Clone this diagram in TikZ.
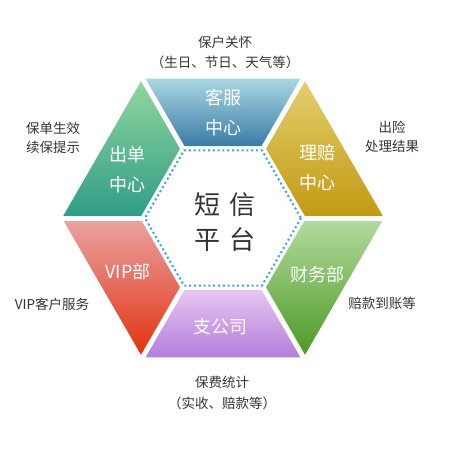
\documentclass[tikz,border=0pt]{standalone}
\usepackage{fontspec}
\setmainfont{Noto Sans CJK SC}
\usetikzlibrary{calc}
\definecolor{labelgray}{HTML}{333333}
\definecolor{ctrgray}{HTML}{333333}
\definecolor{dotblue}{HTML}{3AA3E3}
\definecolor{kfTop}{HTML}{AAD6E1}
\definecolor{kfBot}{HTML}{3B7CA7}
\definecolor{cdTop}{HTML}{93D79C}
\definecolor{cdBot}{HTML}{2E9C86}
\definecolor{lpTop}{HTML}{E3D06F}
\definecolor{lpBot}{HTML}{C29812}
\definecolor{vipTop}{HTML}{EAA4A4}
\definecolor{vipBot}{HTML}{E2300E}
\definecolor{cwTop}{HTML}{B4DB9F}
\definecolor{cwBot}{HTML}{4A9922}
\definecolor{zgTop}{HTML}{E6C6F1}
\definecolor{zgBot}{HTML}{B47DDB}
\begin{document}
\begin{tikzpicture}[x=1pt,y=-1pt,
  lbl/.style={text=labelgray, font=\fontsize{13.5}{16}\selectfont, inner sep=0pt},
  seg/.style={text=white, font=\fontsize{18}{20}\selectfont, inner sep=0pt},
  ctr/.style={text=ctrgray, font=\fontsize{26}{28}\selectfont, inner sep=0pt},
  gapline/.style={white, line width=5pt},
  dotline/.style={draw=dotblue, line width=2pt, dash pattern=on 2pt off 2.8pt}]
\useasboundingbox (0,0) rectangle (450,450);
\coordinate (O) at (223,218);
\foreach \a [count=\i] in {0,60,120,180,240,300} {
  \coordinate (P\i) at ($(O)+(\a:161)$);
  \coordinate (Q\i) at ($(O)+(\a:83)$);
  \coordinate (D\i) at ($(O)+(\a:78)$);
  \coordinate (G\i) at ($(O)+(\a:168)$);
  \coordinate (H\i) at ($(O)+(\a:80)$);
}
% pieces
\shade[top color=kfTop, bottom color=kfBot] (P5)--(P6)--(Q6)--(Q5)--cycle;
\shade[top color=lpTop, bottom color=lpBot] (P6)--(P1)--(Q1)--(Q6)--cycle;
\shade[top color=cwTop, bottom color=cwBot] (P1)--(P2)--(Q2)--(Q1)--cycle;
\shade[top color=zgTop, bottom color=zgBot] (P2)--(P3)--(Q3)--(Q2)--cycle;
\shade[top color=vipTop, bottom color=vipBot] (P3)--(P4)--(Q4)--(Q3)--cycle;
\shade[top color=cdTop, bottom color=cdBot] (P4)--(P5)--(Q5)--(Q4)--cycle;
% gaps
\foreach \i in {1,...,6} { \draw[gapline] (G\i) -- (H\i); }
% inner dotted hexagon
\draw[dotline] (D1)--(D2)--(D3)--(D4)--(D5)--(D6)--cycle;
% piece texts
\node[seg] (kf1) at (223,98) {客服};
\node[seg] (kf2) at (223,128) {中心};
\node[seg] (cd1) at (127,155) {出单};
\node[seg] (cd2) at (127,185) {中心};
\node[seg] (lp1) at (317,153) {理赔};
\node[seg] (lp2) at (317,183) {中心};
\node[seg] (vip) at (128,272) {VIP部};
\node[seg] (cw) at (317,275) {财务部};
\node[seg] (zg) at (220,327) {支公司};
% center
\node[ctr] (c1) at (225,205) {短\hspace{9pt}信};
\node[ctr] (c2) at (225,240) {平\hspace{9pt}台};
% outer labels
\node[lbl] (t1) at (225,42) {保户关怀};
\node[lbl] (t2) at (225,62) {（生日、节日、天气等）};
\node[lbl] (l1) at (53,128) {保单生效};
\node[lbl] (l2) at (53,147) {续保提示};
\node[lbl] (r1) at (392,127) {出险};
\node[lbl] (r2) at (392,146) {处理结果};
\node[lbl] (l3) at (52,304) {VIP客户服务};
\node[lbl] (r3) at (382,303) {赔款到账等};
\node[lbl] (b1) at (222,382) {保费统计};
\node[lbl] (b2) at (222,403) {（实收、赔款等）};
\end{tikzpicture}
\end{document}
